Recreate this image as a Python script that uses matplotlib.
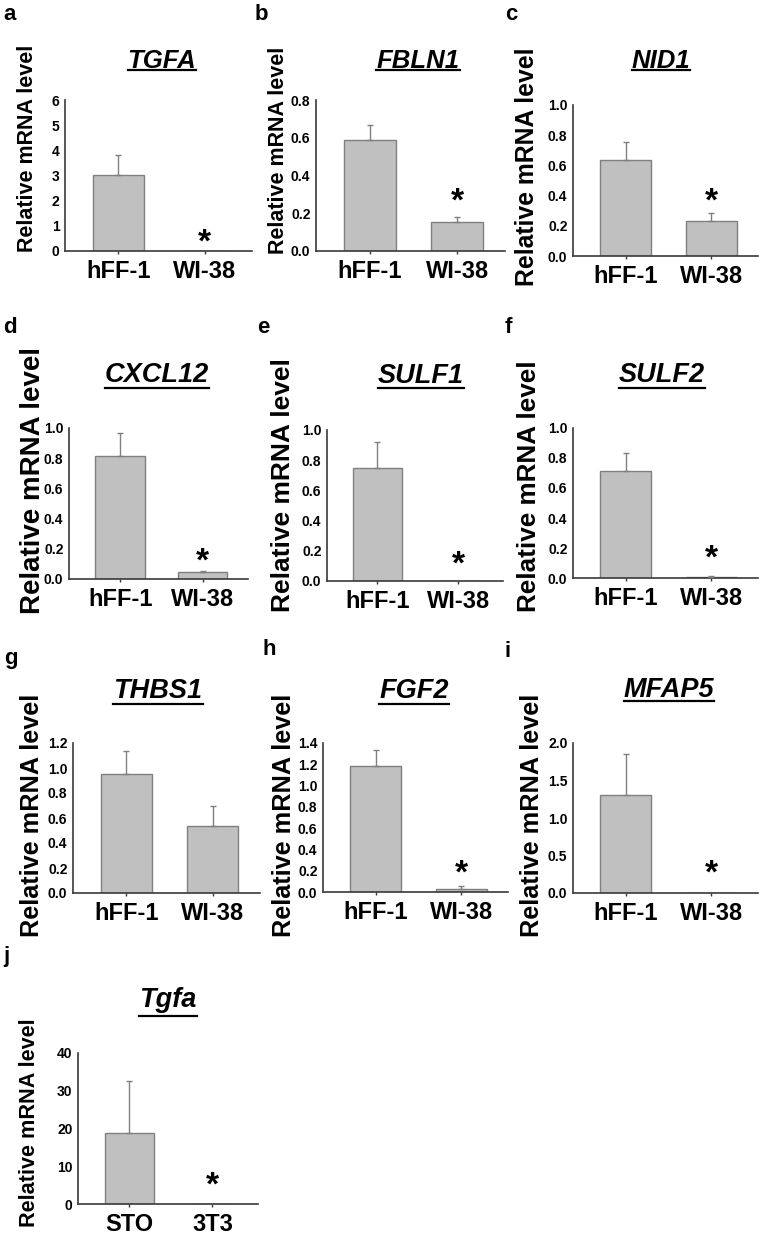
import numpy as np
import matplotlib.pyplot as plt
from matplotlib.lines import Line2D

plt.rcParams['font.family'] = ['Liberation Sans', 'DejaVu Sans']
plt.rcParams['font.weight'] = 'bold'

# ---- data ----
panel_ids = ['a', 'b', 'c', 'd', 'e', 'f', 'g', 'h', 'i', 'j']
genes = ['TGFA', 'FBLN1', 'NID1', 'CXCL12', 'SULF1', 'SULF2', 'THBS1', 'FGF2', 'MFAP5', 'Tgfa']
groups = [['hFF-1', 'WI-38']] * 9 + [['STO', '3T3']]
ctrl_mean = [3.02, 0.59, 0.635, 0.815, 0.75, 0.71, 0.95, 1.185, 1.31, 18.8]
ctrl_err = [0.78, 0.075, 0.12, 0.15, 0.17, 0.12, 0.185, 0.145, 0.54, 13.7]
test_mean = [0.0, 0.155, 0.23, 0.045, 0.0, 0.01, 0.535, 0.03, 0.0, 0.0]
test_err = [0.0, 0.027, 0.055, 0.01, 0.0, 0.003, 0.165, 0.025, 0.0, 0.0]
star_y = [0.72, 0.31, 0.42, 0.18, 0.17, 0.19, None, 0.26, 0.39, 7.4]
y_max = [6, 0.8, 1.0, 1.0, 1.0, 1.0, 1.2, 1.4, 2.0, 40]
y_step = [1, 0.2, 0.2, 0.2, 0.2, 0.2, 0.2, 0.2, 0.5, 10]
y_decimals = [0, 1, 1, 1, 1, 1, 1, 1, 1, 0]

# ---- layout in pixels (x0, x1, ytop, ybottom) ----
W, H = 761, 1234
axes_px = [(65, 252, 100, 251), (316, 505, 100, 251), (573, 758, 105, 256),
           (69, 248, 428, 579), (327, 503, 430, 581), (573, 758, 428, 578),
           (73, 260, 743, 893), (323, 508, 743, 892), (573, 758, 743, 893),
           (78, 258, 1053, 1204)]
ylabel_px = [(28, 148, 15.5), (278, 150, 15.5), (527, 167, 17.8),
             (33, 480, 20.0), (283, 485, 19.0), (529, 486, 18.8),
             (32, 815, 18.2), (284, 815, 18.2), (532, 815, 18.2),
             (30, 1123, 15.6)]
title_px = [(162, 68, 70), (418, 68, 70), (661, 68, 70),
            (157, 382, 388), (421, 383, 388), (662, 382, 388),
            (158, 698, 704), (414, 698, 704), (669, 697, 701),
            (168, 1007, 1016)]
label_px = [(3, 20), (255, 20), (505, 20), (3, 333), (257, 333), (505, 333),
            (4, 664), (262, 655), (505, 657), (3, 962)]
title_size = [18.5, 18.5, 18.5, 19.5, 19.5, 19.5, 19.5, 19.5, 19.5, 19.5]

bar_fill = '#c0c0c0'
bar_edge = '#808080'
axis_col = '#3a3a3a'

fig = plt.figure(figsize=(W / 100, H / 100), dpi=100)
titles = []
for k in range(len(genes)):
    x0, x1, yt, yb = axes_px[k]
    ax = fig.add_axes([x0 / W, 1 - yb / H, (x1 - x0) / W, (yb - yt) / H])
    xs = np.arange(2)
    means = [ctrl_mean[k], test_mean[k]]
    errs = [ctrl_err[k], test_err[k]]
    ax.bar(xs, means, width=0.6, color=bar_fill, edgecolor=bar_edge, linewidth=1, zorder=2)
    for xi, m, e in zip(xs, means, errs):
        if e > 0:
            ax.errorbar(xi, m, yerr=[[0], [e]], fmt='none', ecolor=bar_edge,
                        elinewidth=1, capsize=2.5, capthick=1, zorder=3)
    if star_y[k] is not None:
        ax.annotate('*', xy=(1, star_y[k]), xytext=(0, -0.55 * 24), textcoords='offset points',
                    ha='center', va='baseline', fontsize=24, fontweight='bold')
    ax.set_xlim(-0.62, 1.55)
    ax.set_ylim(0, y_max[k])
    ticks = np.arange(0, y_max[k] + y_step[k] / 2, y_step[k])
    ax.set_yticks(ticks)
    ax.set_yticklabels([f'{t:.{y_decimals[k]}f}' for t in ticks], fontsize=10, fontweight='bold')
    ax.set_xticks(xs)
    ax.set_xticklabels(groups[k], fontsize=17, fontweight='bold')
    ax.tick_params(axis='y', length=0, pad=4)
    ax.tick_params(axis='x', length=2.5, width=1, color=axis_col, pad=4)
    for s in ['top', 'right']:
        ax.spines[s].set_visible(False)
    for s in ['left', 'bottom']:
        ax.spines[s].set_color(axis_col)
        ax.spines[s].set_linewidth(1.2)

    lx, ly, ls = ylabel_px[k]
    fig.text(lx / W, 1 - ly / H, 'Relative mRNA level', rotation=90, ha='center', va='center',
             fontsize=ls, fontweight='bold')
    tx, ty, uy = title_px[k]
    t = fig.text(tx / W, 1 - ty / H, genes[k], ha='center', va='baseline',
                 fontsize=title_size[k], fontweight='bold', style='italic')
    titles.append((t, uy))
    px, py = label_px[k]
    fig.text(px / W, 1 - py / H, panel_ids[k], ha='left', va='baseline',
             fontsize=16, fontweight='bold')

# underline gene names
fig.canvas.draw()
r = fig.canvas.get_renderer()
for t, uy in titles:
    bb = t.get_window_extent(r)
    fig.add_artist(Line2D([bb.x0 / W, bb.x1 / W], [1 - uy / H, 1 - uy / H],
                          transform=fig.transFigure, color='black', linewidth=1.6))

fig.savefig('out.png', dpi=100)
